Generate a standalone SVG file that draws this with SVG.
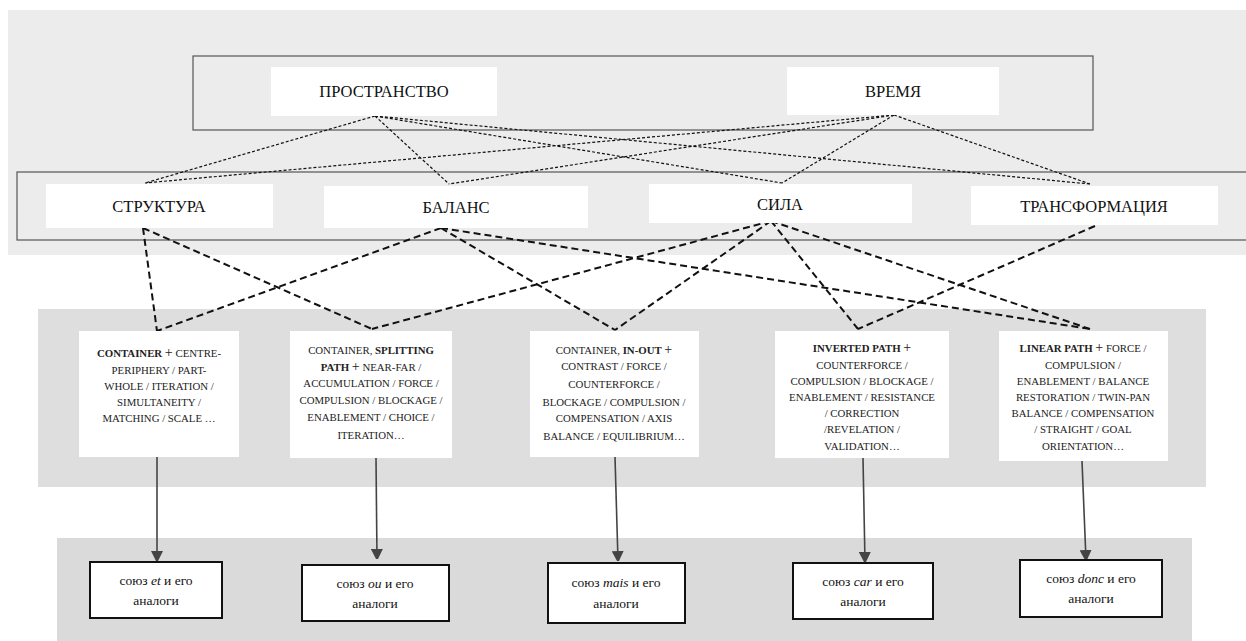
<svg xmlns="http://www.w3.org/2000/svg" width="1246" height="641" viewBox="0 0 1246 641">
<defs>
<style>
.panelT{fill:#ececec}
.panelM{fill:#dedede}
.panelB{fill:#dadada}
.frame{fill:none;stroke:#555;stroke-width:1.2}
.wbox{fill:#fff}
.bbox{fill:#fff;stroke:#111;stroke-width:2}
.thin{fill:none;stroke:#111;stroke-width:1.2;stroke-dasharray:3 2}
.thick{fill:none;stroke:#111;stroke-width:2;stroke-dasharray:7 4}
.arr{fill:none;stroke:#444;stroke-width:1.6}
.big{font-family:"Liberation Serif","Times New Roman",serif;font-size:16.5px;fill:#111;text-anchor:middle}
.sm{font-family:"Liberation Serif","Times New Roman",serif;font-size:10.8px;fill:#222;text-anchor:middle}
.sm .b{font-weight:bold}
.sm .p{font-size:14px}
.cj{font-family:"Liberation Serif","Times New Roman",serif;font-size:13.5px;fill:#111;text-anchor:middle}
</style>
<marker id="ah" markerWidth="10" markerHeight="12" refX="10" refY="6" orient="auto" markerUnits="userSpaceOnUse">
<path d="M0,0 L12,6 L0,12 Z" fill="#444"/>
</marker>
</defs>

<rect class="panelT" x="8" y="10" width="1238" height="245"/>
<rect class="panelM" x="38" y="309" width="1168" height="178"/>
<rect class="panelB" x="57" y="538" width="1135" height="103"/>
<rect class="frame" x="193" y="56" width="900" height="74"/>
<rect class="frame" x="17" y="172" width="1240" height="68"/>

<g id="connectors">
<line class="thin" x1="375" y1="116" x2="145" y2="183"/>
<line class="thin" x1="375" y1="116" x2="449" y2="184"/>
<line class="thin" x1="375" y1="116" x2="782" y2="183"/>
<line class="thin" x1="375" y1="116" x2="1090" y2="184"/>
<line class="thin" x1="894" y1="115" x2="145" y2="183"/>
<line class="thin" x1="894" y1="115" x2="449" y2="184"/>
<line class="thin" x1="894" y1="115" x2="782" y2="183"/>
<line class="thin" x1="894" y1="115" x2="1090" y2="184"/>

<line class="thick" x1="143" y1="228" x2="157" y2="331"/>
<line class="thick" x1="143" y1="228" x2="372" y2="329"/>
<line class="thick" x1="441" y1="228" x2="157" y2="331"/>
<line class="thick" x1="441" y1="228" x2="615" y2="330"/>
<line class="thick" x1="441" y1="228" x2="1090" y2="329"/>
<line class="thick" x1="771" y1="221" x2="372" y2="329"/>
<line class="thick" x1="771" y1="221" x2="615" y2="330"/>
<line class="thick" x1="771" y1="221" x2="858" y2="329"/>
<line class="thick" x1="771" y1="221" x2="1090" y2="329"/>
<line class="thick" x1="1095" y1="226" x2="858" y2="329"/>

<line class="arr" x1="157" y1="457" x2="157" y2="561" marker-end="url(#ah)"/>
<line class="arr" x1="376" y1="458" x2="377" y2="559" marker-end="url(#ah)"/>
<line class="arr" x1="615" y1="457" x2="618" y2="561" marker-end="url(#ah)"/>
<line class="arr" x1="863" y1="458" x2="865" y2="562" marker-end="url(#ah)"/>
<line class="arr" x1="1082" y1="461" x2="1086" y2="560" marker-end="url(#ah)"/>
</g>

<g id="n-prostranstvo"><rect class="wbox" x="271" y="67" width="226" height="49"/><text class="big" x="384" y="97">ПРОСТРАНСТВО</text></g>
<g id="n-vremya"><rect class="wbox" x="787" y="67" width="212" height="48"/><text class="big" x="893" y="97">ВРЕМЯ</text></g>

<g id="n-struktura"><rect class="wbox" x="46" y="184" width="227" height="44"/><text class="big" x="159" y="212">СТРУКТУРА</text></g>
<g id="n-balans"><rect class="wbox" x="324" y="186" width="264" height="42"/><text class="big" x="456" y="213">БАЛАНС</text></g>
<g id="n-sila"><rect class="wbox" x="649" y="184" width="263" height="39"/><text class="big" x="780" y="210">СИЛА</text></g>
<g id="n-transformatsiya"><rect class="wbox" x="971" y="186" width="247" height="39"/><text class="big" x="1094" y="212">ТРАНСФОРМАЦИЯ</text></g>

<g id="n-m1"><rect class="wbox" x="79" y="331" width="160" height="126"/>
<text class="sm" x="159" y="357"><tspan class="b">CONTAINER</tspan> <tspan class="p">+</tspan> CENTRE-</text>
<text class="sm" x="159" y="374">PERIPHERY / PART-</text>
<text class="sm" x="159" y="390">WHOLE / ITERATION /</text>
<text class="sm" x="159" y="406">SIMULTANEITY /</text>
<text class="sm" x="159" y="422">MATCHING / SCALE …</text>
</g>

<g id="n-m2"><rect class="wbox" x="290" y="331" width="162" height="127"/>
<text class="sm" x="371" y="354">CONTAINER, <tspan class="b">SPLITTING</tspan></text>
<text class="sm" x="371" y="371"><tspan class="b">PATH</tspan> <tspan class="p">+</tspan> NEAR-FAR /</text>
<text class="sm" x="371" y="387">ACCUMULATION / FORCE /</text>
<text class="sm" x="371" y="404">COMPULSION / BLOCKAGE /</text>
<text class="sm" x="371" y="421">ENABLEMENT / CHOICE /</text>
<text class="sm" x="371" y="439">ITERATION…</text>
</g>

<g id="n-m3"><rect class="wbox" x="530" y="331" width="169" height="126"/>
<text class="sm" x="614" y="354">CONTAINER, <tspan class="b">IN-OUT</tspan> <tspan class="p">+</tspan></text>
<text class="sm" x="614" y="370">CONTRAST / FORCE /</text>
<text class="sm" x="614" y="388">COUNTERFORCE /</text>
<text class="sm" x="614" y="406">BLOCKAGE / COMPULSION /</text>
<text class="sm" x="614" y="422">COMPENSATION / AXIS</text>
<text class="sm" x="614" y="440">BALANCE / EQUILIBRIUM…</text>
</g>

<g id="n-m4"><rect class="wbox" x="775" y="331" width="174" height="127"/>
<text class="sm" x="862" y="352"><tspan class="b">INVERTED PATH</tspan> <tspan class="p">+</tspan></text>
<text class="sm" x="862" y="369">COUNTERFORCE /</text>
<text class="sm" x="862" y="385">COMPULSION / BLOCKAGE /</text>
<text class="sm" x="862" y="401">ENABLEMENT / RESISTANCE</text>
<text class="sm" x="862" y="417">/ CORRECTION</text>
<text class="sm" x="862" y="433">/REVELATION /</text>
<text class="sm" x="862" y="450">VALIDATION…</text>
</g>

<g id="n-m5"><rect class="wbox" x="999" y="331" width="169" height="130"/>
<text class="sm" x="1083" y="352"><tspan class="b">LINEAR PATH</tspan> <tspan class="p">+</tspan> FORCE /</text>
<text class="sm" x="1083" y="369">COMPULSION /</text>
<text class="sm" x="1083" y="385">ENABLEMENT / BALANCE</text>
<text class="sm" x="1083" y="401">RESTORATION / TWIN-PAN</text>
<text class="sm" x="1083" y="417">BALANCE / COMPENSATION</text>
<text class="sm" x="1083" y="433">/ STRAIGHT / GOAL</text>
<text class="sm" x="1083" y="450">ORIENTATION…</text>
</g>

<g id="n-b1"><rect class="bbox" x="90" y="562" width="132" height="56"/>
<text class="cj" x="156" y="585">союз <tspan font-style="italic">et</tspan> и его</text>
<text class="cj" x="156" y="605">аналоги</text></g>
<g id="n-b2"><rect class="bbox" x="302" y="565" width="147" height="56"/>
<text class="cj" x="375" y="588">союз <tspan font-style="italic">ou</tspan> и его</text>
<text class="cj" x="375" y="608">аналоги</text></g>
<g id="n-b3"><rect class="bbox" x="548" y="563" width="137" height="60"/>
<text class="cj" x="616" y="587">союз <tspan font-style="italic">mais</tspan> и его</text>
<text class="cj" x="616" y="608">аналоги</text></g>
<g id="n-b4"><rect class="bbox" x="793" y="563" width="140" height="56"/>
<text class="cj" x="863" y="586">союз <tspan font-style="italic">car</tspan> и его</text>
<text class="cj" x="863" y="606">аналоги</text></g>
<g id="n-b5"><rect class="bbox" x="1020" y="560" width="142" height="57"/>
<text class="cj" x="1091" y="583">союз <tspan font-style="italic">donc</tspan> и его</text>
<text class="cj" x="1091" y="603">аналоги</text></g>
</svg>
